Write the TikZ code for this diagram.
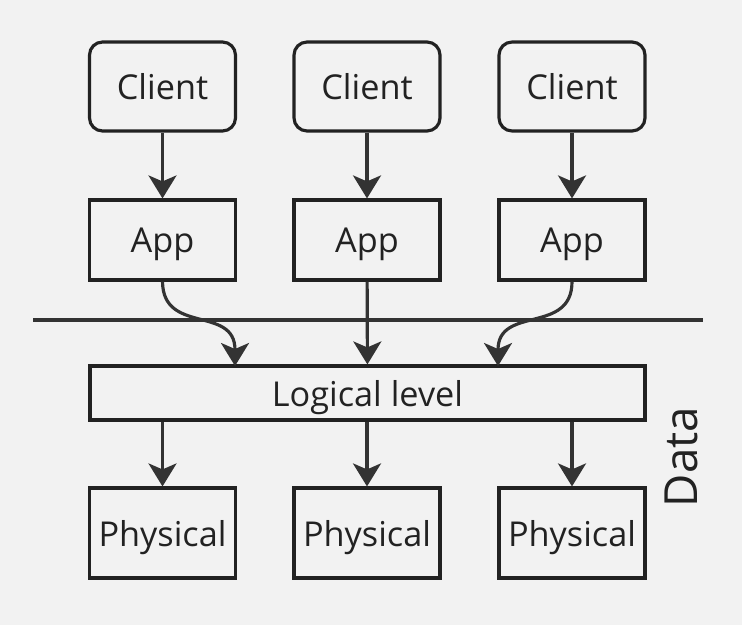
\documentclass[tikz,border=0pt]{standalone}
\usepackage{fontspec}
\setmainfont{Open Sans}
\usetikzlibrary{arrows.meta,positioning}
\definecolor{boxgray}{RGB}{34,34,34}
\definecolor{arrowgray}{RGB}{51,51,51}
\definecolor{bggray}{RGB}{242,242,242}

\begin{document}
\begin{tikzpicture}[
    x=0.02cm, y=-0.02cm,
    box/.style={rectangle, draw=boxgray, line width=1.8pt, text=boxgray, minimum width=2.92cm, text centered, text depth=0pt, inner sep=0pt, font=\fontsize{19.5}{22}\selectfont},
    client/.style={box, rounded corners=0.26cm, minimum height=1.78cm},
    app/.style={box, minimum height=1.6cm},
    logic/.style={box, minimum width=11.1cm, minimum height=1.08cm},
    phys/.style={box, minimum height=1.8cm},
    arrow/.style={-{Stealth[length=0.46cm, width=0.56cm, inset=0.12cm, fill=arrowgray]}, line width=1.8pt, draw=arrowgray},
    sep/.style={line width=1.8pt, draw=arrowgray}
]
\useasboundingbox[fill=bggray] (0,0) rectangle (742,625);

% clients
\node[client] (client1) at (162.5,86.5) {Client};
\node[client] (client2) at (367,86.5) {Client};
\node[client] (client3) at (572,86.5) {Client};

% apps
\node[app] (app1) at (162.5,240) {App};
\node[app] (app2) at (367,240) {App};
\node[app] (app3) at (572,240) {App};

% separator
\coordinate (sepL) at (33,320);
\coordinate (sepR) at (703,320);
\draw[sep] (sepL) -- (sepR);

% data level
\node[logic] (logic) at (367.5,393) {Logical level};
\node[phys] (phys1) at (162.5,533) {Physical};
\node[phys] (phys2) at (367,533) {Physical};
\node[phys] (phys3) at (572,533) {Physical};
\node[text=boxgray, rotate=90, font=\fontsize{26}{30}\selectfont] (data) at (681,457) {Data};

\coordinate (in1) at (235,366);
\coordinate (in3) at (498,366);

\draw[arrow] (client1) -- (app1);
\draw[arrow] (client2) -- (app2);
\draw[arrow] (client3) -- (app3);

\draw[arrow] (app1.south) .. controls (163,335) and (235,305) .. (in1);
\draw[arrow] (app2) -- (logic);
\draw[arrow] (app3.south) .. controls (572,335) and (498,305) .. (in3);

\draw[arrow] (logic.south -| phys1) -- (phys1);
\draw[arrow] (logic.south -| phys2) -- (phys2);
\draw[arrow] (logic.south -| phys3) -- (phys3);
\end{tikzpicture}
\end{document}
